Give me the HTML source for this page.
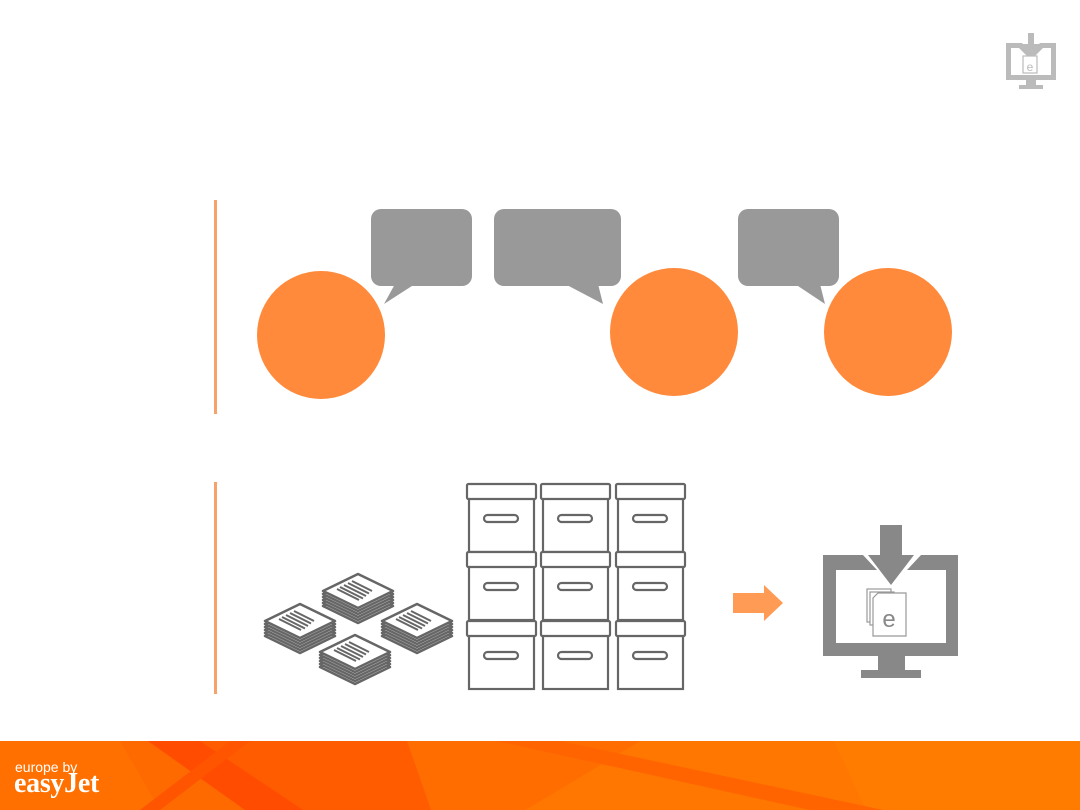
<!DOCTYPE html>
<html><head><style>html,body{margin:0;padding:0;background:#fff;}svg{display:block}</style></head>
<body>
<svg width="1080" height="810" viewBox="0 0 1080 810" xmlns="http://www.w3.org/2000/svg">
<defs>
<g id="stack">
  <g fill="#fff" stroke="#666" stroke-width="2.5" stroke-linejoin="round">
    <polygon points="0,15 -35,32 0,49 35,32"/>
    <polygon points="0,12 -35,29 0,46 35,29"/>
    <polygon points="0,9 -35,26 0,43 35,26"/>
    <polygon points="0,6 -35,23 0,40 35,23"/>
    <polygon points="0,3 -35,20 0,37 35,20"/>
    <polygon points="0,0 -35,17 0,34 35,17"/>
  </g>
  <g stroke="#666" stroke-width="2">
    <line x1="-6" y1="7" x2="14" y2="17"/><line x1="-10" y1="9" x2="11" y2="19.5"/>
    <line x1="-14" y1="11" x2="8" y2="22"/><line x1="-18" y1="13" x2="5" y2="24.5"/>
    <line x1="-21" y1="15" x2="1" y2="26"/>
  </g>
</g>
<g id="box" fill="#fff" stroke="#666" stroke-width="2.2">
  <rect x="2" y="14" width="65" height="54"/>
  <rect x="0" y="0" width="69" height="15" rx="1.5"/>
  <rect x="17" y="31" width="34" height="7" rx="3.5"/>
</g>
</defs>

<!-- top-right icon -->
<g fill="#bbb">
  <path d="M1006,43 H1022 L1031,53 L1040,43 H1056 V80 H1006 Z M1011,48 V75 H1051 V48 H1043 L1031,60 L1019,48 Z" fill-rule="evenodd"/>
  <rect x="1028" y="33" width="6" height="12"/><polygon points="1022,44 1040,44 1031,54"/>
  <rect x="1026" y="80" width="10" height="5"/><rect x="1019" y="85" width="24" height="4"/>
  <rect x="1023" y="56" width="14" height="17" fill="#fff" stroke="#bbb" stroke-width="1.2"/>
  <text x="1030" y="71" font-family="Liberation Sans, sans-serif" font-size="12" text-anchor="middle" fill="#bbb">e</text>
</g>

<!-- orange separators -->
<rect x="214" y="200" width="3" height="214" fill="#F7A26A"/>
<rect x="214" y="482" width="3" height="212" fill="#F7A26A"/>

<!-- bubbles -->
<g fill="#999">
  <rect x="371" y="209" width="101" height="77" rx="10"/><polygon points="395,284 415,284 384,304"/>
  <rect x="494" y="209" width="127" height="77" rx="10"/><polygon points="565,284 598,284 603,304"/>
  <rect x="738" y="209" width="101" height="77" rx="10"/><polygon points="795,284 820,284 825,304"/>
</g>
<g fill="#FF8A3B">
  <circle cx="321" cy="335" r="64"/>
  <circle cx="674" cy="332" r="64"/>
  <circle cx="888" cy="332" r="64"/>
</g>

<!-- paper stacks -->
<use href="#stack" x="358" y="574"/>
<use href="#stack" x="300" y="604"/>
<use href="#stack" x="417" y="604"/>
<use href="#stack" x="355" y="635"/>

<!-- boxes -->
<use href="#box" x="467" y="484"/><use href="#box" x="541" y="484"/><use href="#box" x="616" y="484"/>
<use href="#box" x="467" y="552"/><use href="#box" x="541" y="552"/><use href="#box" x="616" y="552"/>
<use href="#box" x="467" y="621"/><use href="#box" x="541" y="621"/><use href="#box" x="616" y="621"/>

<!-- orange arrow -->
<polygon points="733,593 764,593 764,585 783,603 764,621 764,613 733,613" fill="#FF9B55"/>

<!-- monitor -->
<g fill="#888">
  <path d="M823,555 H863 L877,570 H836 V643 H946 V570 H907 L921,555 H958 V656 H823 Z" fill-rule="evenodd"/>
  <rect x="880" y="525" width="22" height="30"/>
  <polygon points="868,555 914,555 891,585"/>
  <rect x="878" y="656" width="27" height="15"/>
  <rect x="861" y="670" width="60" height="8"/>
</g>
<g fill="#fff" stroke="#999" stroke-width="1.2">
  <rect x="867" y="589" width="24" height="33"/>
  <rect x="870" y="592" width="24" height="33"/>
  <path d="M878,593 H906 V636 H873 V598 Z"/>
</g>
<text x="889" y="627" font-family="Liberation Sans, sans-serif" font-size="24" text-anchor="middle" fill="#888">e</text>

<!-- footer -->
<rect x="0" y="741" width="1080" height="69" fill="#FF5C00"/>
<polygon points="0,741 148,741 248,810 0,810" fill="#FF6A00"/>
<polygon points="0,741 120,741 160,810 0,810" fill="#FF7000"/>
<polygon points="407,741 1080,741 1080,810 431,810" fill="#FF6C00"/>
<polygon points="640,741 1080,741 1080,810 525,810" fill="#FF7600"/>
<polygon points="834,741 1080,741 1080,810 866,810" fill="#FF7C00"/>
<polygon points="148,741 200,741 303,810 245,810" fill="#FF4C00"/>
<polygon points="230,741 250,741 160,810 140,810" fill="#FF5400"/>
<polygon points="497,741 560,741 883,810 810,810" fill="#FF6400"/>
<text x="15" y="772" font-family="Liberation Sans, sans-serif" font-size="14" fill="#fff">europe by</text>
<text x="14" y="792" font-family="Liberation Serif, serif" font-weight="bold" font-size="28" fill="#fff" letter-spacing="-0.3">easyJet</text>
</svg>
</body></html>
